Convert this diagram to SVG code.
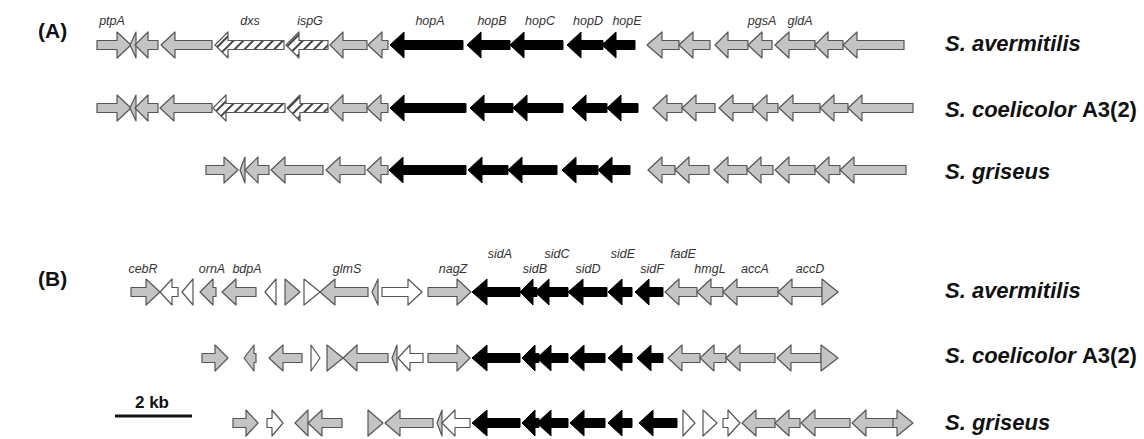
<svg xmlns="http://www.w3.org/2000/svg" width="1144" height="439" viewBox="0 0 1144 439">
<defs>
<pattern id="hatch" patternUnits="userSpaceOnUse" width="7" height="7" patternTransform="rotate(45)"><rect width="7" height="7" fill="#fff"/><line x1="1" y1="0" x2="1" y2="7" stroke="#444" stroke-width="2"/></pattern>
</defs>
<style>
.g{fill:#c4c4c4;stroke:#555;stroke-width:1.2;stroke-linejoin:round}
.b{fill:#000;stroke:#000;stroke-width:1}
.w{fill:#fff;stroke:#555;stroke-width:1.2;stroke-linejoin:round}
.h{fill:url(#hatch);stroke:#555;stroke-width:1.2;stroke-linejoin:round}
.lbl{font-family:"Liberation Sans",Arial,sans-serif;font-style:italic;font-size:12.5px;fill:#333;text-anchor:middle}
.sp{font-family:"Liberation Sans",Arial,sans-serif;font-style:italic;font-weight:bold;font-size:22px;fill:#111}
.up{font-style:normal}
.pl{font-family:"Liberation Sans",Arial,sans-serif;font-weight:bold;font-size:21px;fill:#111}
</style>
<rect width="1144" height="439" fill="#fff"/>
<text class="pl" x="38" y="38">(A)</text>
<text class="pl" x="38" y="286">(B)</text>

<g id="rowA1" transform="translate(0,45)">
<polygon id="A1_ptpA" class="g" points="97,-4.5 117,-4.5 117,-13 131,0 117,13 117,4.5 97,4.5"/>
<polygon class="g" points="130,0 136,-13 136,13"/>
<polygon class="g" points="135,0 148,-13 148,-4.5 158,-4.5 158,4.5 148,4.5 148,13"/>
<polygon class="g" points="161,0 175,-13 175,-4.5 212,-4.5 212,4.5 175,4.5 175,13"/>
<polygon id="A1_dxs" class="h" points="215,0 228,-13 228,-4.5 284,-4.5 284,4.5 228,4.5 228,13"/>
<polygon id="A1_ispG" class="h" points="286,0 299,-13 299,-4.5 328,-4.5 328,4.5 299,4.5 299,13"/>
<polygon class="g" points="330,0 343,-13 343,-4.5 367,-4.5 367,4.5 343,4.5 343,13"/>
<polygon class="g" points="368,0 382,-13 382,-4.5 388,-4.5 388,4.5 382,4.5 382,13"/>
<polygon id="A1_hopA" class="b" points="390,0 404,-13 404,-4.5 463,-4.5 463,4.5 404,4.5 404,13"/>
<polygon id="A1_hopB" class="b" points="467,0 481,-13 481,-4.5 510,-4.5 510,4.5 481,4.5 481,13"/>
<polygon id="A1_hopC" class="b" points="510,0 524,-13 524,-4.5 563,-4.5 563,4.5 524,4.5 524,13"/>
<polygon id="A1_hopD" class="b" points="567,0 581,-13 581,-4.5 603,-4.5 603,4.5 581,4.5 581,13"/>
<polygon id="A1_hopE" class="b" points="602,0 616,-13 616,-4.5 635,-4.5 635,4.5 616,4.5 616,13"/>
<polygon class="g" points="647,0 662,-13 662,-4.5 679,-4.5 679,4.5 662,4.5 662,13"/>
<polygon class="g" points="679,0 693,-13 693,-4.5 710,-4.5 710,4.5 693,4.5 693,13"/>
<polygon class="g" points="715,0 728,-13 728,-4.5 748,-4.5 748,4.5 728,4.5 728,13"/>
<polygon id="A1_pgsA" class="g" points="748,0 762,-13 762,-4.5 772,-4.5 772,4.5 762,4.5 762,13"/>
<polygon id="A1_gldA" class="g" points="775,0 789,-13 789,-4.5 815,-4.5 815,4.5 789,4.5 789,13"/>
<polygon class="g" points="815,0 828,-13 828,-4.5 843,-4.5 843,4.5 828,4.5 828,13"/>
<polygon class="g" points="843,0 857,-13 857,-4.5 904,-4.5 904,4.5 857,4.5 857,13"/>
</g>
<g id="labelsA">
<text class="lbl" x="112" y="25">ptpA</text>
<text class="lbl" x="250" y="25">dxs</text>
<text class="lbl" x="310" y="25">ispG</text>
<text class="lbl" x="430" y="25">hopA</text>
<text class="lbl" x="492" y="25">hopB</text>
<text class="lbl" x="540" y="25">hopC</text>
<text class="lbl" x="588" y="25">hopD</text>
<text class="lbl" x="627" y="25">hopE</text>
<text class="lbl" x="762" y="25">pgsA</text>
<text class="lbl" x="800" y="25">gldA</text>
</g>

<g id="rowA2" transform="translate(0,108)">
<polygon class="g" points="97,-4.5 117,-4.5 117,-13 131,0 117,13 117,4.5 97,4.5"/>
<polygon class="g" points="130,0 136,-13 136,13"/>
<polygon class="g" points="135,0 148,-13 148,-4.5 158,-4.5 158,4.5 148,4.5 148,13"/>
<polygon class="g" points="160,0 174,-13 174,-4.5 212,-4.5 212,4.5 174,4.5 174,13"/>
<polygon class="h" points="213,0 226,-13 226,-4.5 285,-4.5 285,4.5 226,4.5 226,13"/>
<polygon class="h" points="287,0 300,-13 300,-4.5 328,-4.5 328,4.5 300,4.5 300,13"/>
<polygon class="g" points="330,0 343,-13 343,-4.5 367,-4.5 367,4.5 343,4.5 343,13"/>
<polygon class="g" points="367,0 381,-13 381,-4.5 388,-4.5 388,4.5 381,4.5 381,13"/>
<polygon class="b" points="390,0 404,-13 404,-4.5 466,-4.5 466,4.5 404,4.5 404,13"/>
<polygon class="b" points="470,0 484,-13 484,-4.5 513,-4.5 513,4.5 484,4.5 484,13"/>
<polygon class="b" points="513,0 527,-13 527,-4.5 563,-4.5 563,4.5 527,4.5 527,13"/>
<polygon class="b" points="572,0 586,-13 586,-4.5 607,-4.5 607,4.5 586,4.5 586,13"/>
<polygon class="b" points="607,0 621,-13 621,-4.5 638,-4.5 638,4.5 621,4.5 621,13"/>
<polygon class="g" points="653,0 667,-13 667,-4.5 682,-4.5 682,4.5 667,4.5 667,13"/>
<polygon class="g" points="682,0 696,-13 696,-4.5 715,-4.5 715,4.5 696,4.5 696,13"/>
<polygon class="g" points="719,0 733,-13 733,-4.5 753,-4.5 753,4.5 733,4.5 733,13"/>
<polygon class="g" points="753,0 767,-13 767,-4.5 778,-4.5 778,4.5 767,4.5 767,13"/>
<polygon class="g" points="779,0 793,-13 793,-4.5 820,-4.5 820,4.5 793,4.5 793,13"/>
<polygon class="g" points="820,0 834,-13 834,-4.5 848,-4.5 848,4.5 834,4.5 834,13"/>
<polygon class="g" points="848,0 862,-13 862,-4.5 913,-4.5 913,4.5 862,4.5 862,13"/>
</g>

<g id="rowA3" transform="translate(0,170)">
<polygon class="g" points="206,-4.5 224,-4.5 224,-13 238,0 224,13 224,4.5 206,4.5"/>
<polygon class="g" points="240,0 245,-13 245,13"/>
<polygon class="g" points="245,0 258,-13 258,-4.5 269,-4.5 269,4.5 258,4.5 258,13"/>
<polygon class="g" points="271,0 285,-13 285,-4.5 323,-4.5 323,4.5 285,4.5 285,13"/>
<polygon class="g" points="326,0 340,-13 340,-4.5 365,-4.5 365,4.5 340,4.5 340,13"/>
<polygon class="g" points="367,0 381,-13 381,-4.5 388,-4.5 388,4.5 381,4.5 381,13"/>
<polygon class="b" points="389,0 403,-13 403,-4.5 466,-4.5 466,4.5 403,4.5 403,13"/>
<polygon class="b" points="468,0 482,-13 482,-4.5 508,-4.5 508,4.5 482,4.5 482,13"/>
<polygon class="b" points="508,0 522,-13 522,-4.5 557,-4.5 557,4.5 522,4.5 522,13"/>
<polygon class="b" points="562,0 576,-13 576,-4.5 598,-4.5 598,4.5 576,4.5 576,13"/>
<polygon class="b" points="598,0 612,-13 612,-4.5 630,-4.5 630,4.5 612,4.5 612,13"/>
<polygon class="g" points="648,0 662,-13 662,-4.5 675,-4.5 675,4.5 662,4.5 662,13"/>
<polygon class="g" points="675,0 689,-13 689,-4.5 709,-4.5 709,4.5 689,4.5 689,13"/>
<polygon class="g" points="714,0 728,-13 728,-4.5 747,-4.5 747,4.5 728,4.5 728,13"/>
<polygon class="g" points="747,0 761,-13 761,-4.5 773,-4.5 773,4.5 761,4.5 761,13"/>
<polygon class="g" points="775,0 789,-13 789,-4.5 815,-4.5 815,4.5 789,4.5 789,13"/>
<polygon class="g" points="815,0 829,-13 829,-4.5 840,-4.5 840,4.5 829,4.5 829,13"/>
<polygon class="g" points="840,0 854,-13 854,-4.5 906,-4.5 906,4.5 854,4.5 854,13"/>
</g>

<g id="speciesA">
<text class="sp" x="945" y="51">S. avermitilis</text>
<text class="sp" x="945" y="117">S. coelicolor <tspan class="up">A3(2)</tspan></text>
<text class="sp" x="945" y="179">S. griseus</text>
</g>

<g id="rowB1" transform="translate(0,292)">
<polygon id="B1_cebR" class="g" points="131,-4.5 146,-4.5 146,-13 160,0 146,13 146,4.5 131,4.5"/>
<polygon class="w" points="160,0 172,-13 172,-4.5 178,-4.5 178,4.5 172,4.5 172,13"/>
<polygon class="w" points="182,0 193,-13 193,13"/>
<polygon id="B1_ornA" class="g" points="200,0 213,-13 213,-4.5 216,-4.5 216,4.5 213,4.5 213,13"/>
<polygon id="B1_bdpA" class="g" points="222,0 236,-13 236,-4.5 256,-4.5 256,4.5 236,4.5 236,13"/>
<polygon class="w" points="265,0 276,-13 276,13"/>
<polygon class="g" points="285,-13 300,0 285,13"/>
<polygon class="w" points="304,-13 320,0 304,13"/>
<polygon id="B1_glmS" class="g" points="320,0 335,-13 335,-4.5 368,-4.5 368,4.5 335,4.5 335,13"/>
<polygon class="g" points="372,0 378,-13 378,13"/>
<polygon class="w" points="382,-4.5 408,-4.5 408,-13 422,0 408,13 408,4.5 382,4.5"/>
<polygon id="B1_nagZ" class="g" points="428,-4.5 457,-4.5 457,-13 471,0 457,13 457,4.5 428,4.5"/>
<polygon id="B1_sidA" class="b" points="472,0 487,-13 487,-4.5 520,-4.5 520,4.5 487,4.5 487,13"/>
<polygon id="B1_sidB" class="b" points="520,0 533,-13 533,-4.5 537,-4.5 537,4.5 533,4.5 533,13"/>
<polygon id="B1_sidC" class="b" points="535,0 549,-13 549,-4.5 568,-4.5 568,4.5 549,4.5 549,13"/>
<polygon id="B1_sidD" class="b" points="568,0 583,-13 583,-4.5 607,-4.5 607,4.5 583,4.5 583,13"/>
<polygon id="B1_sidE" class="b" points="608,0 622,-13 622,-4.5 632,-4.5 632,4.5 622,4.5 622,13"/>
<polygon id="B1_sidF" class="b" points="635,0 649,-13 649,-4.5 663,-4.5 663,4.5 649,4.5 649,13"/>
<polygon id="B1_fadE" class="g" points="665,0 679,-13 679,-4.5 697,-4.5 697,4.5 679,4.5 679,13"/>
<polygon id="B1_hmgL" class="g" points="697,0 711,-13 711,-4.5 723,-4.5 723,4.5 711,4.5 711,13"/>
<polygon id="B1_accA" class="g" points="723,0 737,-13 737,-4.5 778,-4.5 778,4.5 737,4.5 737,13"/>
<polygon id="B1_accD" class="g" points="778,0 792,-13 792,-4.5 822,-4.5 822,4.5 792,4.5 792,13"/>
<polygon class="g" points="822,-13 838,0 822,13"/>
</g>
<g id="labelsB">
<text class="lbl" x="143" y="273">cebR</text>
<text class="lbl" x="212" y="273">ornA</text>
<text class="lbl" x="247" y="273">bdpA</text>
<text class="lbl" x="347" y="273">glmS</text>
<text class="lbl" x="453" y="273">nagZ</text>
<text class="lbl" x="500" y="258">sidA</text>
<text class="lbl" x="535" y="273">sidB</text>
<text class="lbl" x="557" y="258">sidC</text>
<text class="lbl" x="588" y="273">sidD</text>
<text class="lbl" x="623" y="258">sidE</text>
<text class="lbl" x="652" y="273">sidF</text>
<text class="lbl" x="683" y="258">fadE</text>
<text class="lbl" x="710" y="273">hmgL</text>
<text class="lbl" x="755" y="273">accA</text>
<text class="lbl" x="810" y="273">accD</text>
</g>

<g id="rowB2" transform="translate(0,358)">
<polygon class="g" points="202,-4.5 215,-4.5 215,-13 228,0 215,13 215,4.5 202,4.5"/>
<polygon class="g" points="244,0 254,-13 254,-4.5 256,-4.5 256,4.5 254,4.5 254,13"/>
<polygon class="g" points="269,0 283,-13 283,-4.5 302,-4.5 302,4.5 283,4.5 283,13"/>
<polygon class="w" points="311,-13 320,0 311,13"/>
<polygon class="g" points="327,-13 343,0 327,13"/>
<polygon class="g" points="343,0 357,-13 357,-4.5 388,-4.5 388,4.5 357,4.5 357,13"/>
<polygon class="g" points="392,0 397,-13 397,13"/>
<polygon class="w" points="398,0 410,-13 410,-4.5 423,-4.5 423,4.5 410,4.5 410,13"/>
<polygon class="g" points="428,-4.5 457,-4.5 457,-13 470,0 457,13 457,4.5 428,4.5"/>
<polygon class="b" points="472,0 487,-13 487,-4.5 520,-4.5 520,4.5 487,4.5 487,13"/>
<polygon class="b" points="522,0 535,-13 535,-4.5 539,-4.5 539,4.5 535,4.5 535,13"/>
<polygon class="b" points="537,0 551,-13 551,-4.5 568,-4.5 568,4.5 551,4.5 551,13"/>
<polygon class="b" points="570,0 584,-13 584,-4.5 605,-4.5 605,4.5 584,4.5 584,13"/>
<polygon class="b" points="608,0 622,-13 622,-4.5 632,-4.5 632,4.5 622,4.5 622,13"/>
<polygon class="b" points="637,0 651,-13 651,-4.5 663,-4.5 663,4.5 651,4.5 651,13"/>
<polygon class="g" points="668,0 682,-13 682,-4.5 700,-4.5 700,4.5 682,4.5 682,13"/>
<polygon class="g" points="700,0 714,-13 714,-4.5 726,-4.5 726,4.5 714,4.5 714,13"/>
<polygon class="g" points="726,0 740,-13 740,-4.5 775,-4.5 775,4.5 740,4.5 740,13"/>
<polygon class="g" points="777,0 791,-13 791,-4.5 821,-4.5 821,4.5 791,4.5 791,13"/>
<polygon class="g" points="821,-13 838,0 821,13"/>
</g>

<g id="rowB3" transform="translate(0,423)">
<polygon class="g" points="233,-4.5 246,-4.5 246,-13 258,0 246,13 246,4.5 233,4.5"/>
<polygon class="w" points="267,-4.5 272,-4.5 272,-13 283,0 272,13 272,4.5 267,4.5"/>
<polygon class="g" points="295,0 308,-13 308,13"/>
<polygon class="g" points="308,0 322,-13 322,-4.5 342,-4.5 342,4.5 322,4.5 322,13"/>
<polygon class="g" points="368,-13 383,0 368,13"/>
<polygon class="g" points="385,0 400,-13 400,-4.5 433,-4.5 433,4.5 400,4.5 400,13"/>
<polygon class="g" points="437,0 442,-13 442,13"/>
<polygon class="w" points="442,0 455,-13 455,-4.5 470,-4.5 470,4.5 455,4.5 455,13"/>
<polygon class="b" points="472,0 487,-13 487,-4.5 520,-4.5 520,4.5 487,4.5 487,13"/>
<polygon class="b" points="522,0 535,-13 535,-4.5 539,-4.5 539,4.5 535,4.5 535,13"/>
<polygon class="b" points="537,0 551,-13 551,-4.5 568,-4.5 568,4.5 551,4.5 551,13"/>
<polygon class="b" points="570,0 584,-13 584,-4.5 605,-4.5 605,4.5 584,4.5 584,13"/>
<polygon class="b" points="608,0 622,-13 622,-4.5 632,-4.5 632,4.5 622,4.5 622,13"/>
<polygon class="b" points="639,0 653,-13 653,-4.5 677,-4.5 677,4.5 653,4.5 653,13"/>
<polygon class="w" points="683,-13 695,0 683,13"/>
<polygon class="w" points="703,-13 717,0 703,13"/>
<polygon class="w" points="723,-4.5 728,-4.5 728,-13 740,0 728,13 728,4.5 723,4.5"/>
<polygon class="g" points="742,0 756,-13 756,-4.5 775,-4.5 775,4.5 756,4.5 756,13"/>
<polygon class="g" points="775,0 789,-13 789,-4.5 800,-4.5 800,4.5 789,4.5 789,13"/>
<polygon class="g" points="801,0 815,-13 815,-4.5 850,-4.5 850,4.5 815,4.5 815,13"/>
<polygon class="g" points="852,0 866,-13 866,-4.5 895,-4.5 895,4.5 866,4.5 866,13"/>
<polygon class="g" points="893,-4.5 897,-4.5 897,-13 913,0 897,13 897,4.5 893,4.5"/>
</g>

<g id="speciesB">
<text class="sp" x="945" y="298">S. avermitilis</text>
<text class="sp" x="945" y="363">S. coelicolor <tspan class="up">A3(2)</tspan></text>
<text class="sp" x="945" y="430">S. griseus</text>
</g>

<g id="scalebar">
<line x1="115" y1="416" x2="192" y2="416" stroke="#111" stroke-width="3"/>
<text x="152" y="408" text-anchor="middle" font-family="Liberation Sans, Arial, sans-serif" font-weight="bold" font-size="17" fill="#111">2 kb</text>
</g>
</svg>
